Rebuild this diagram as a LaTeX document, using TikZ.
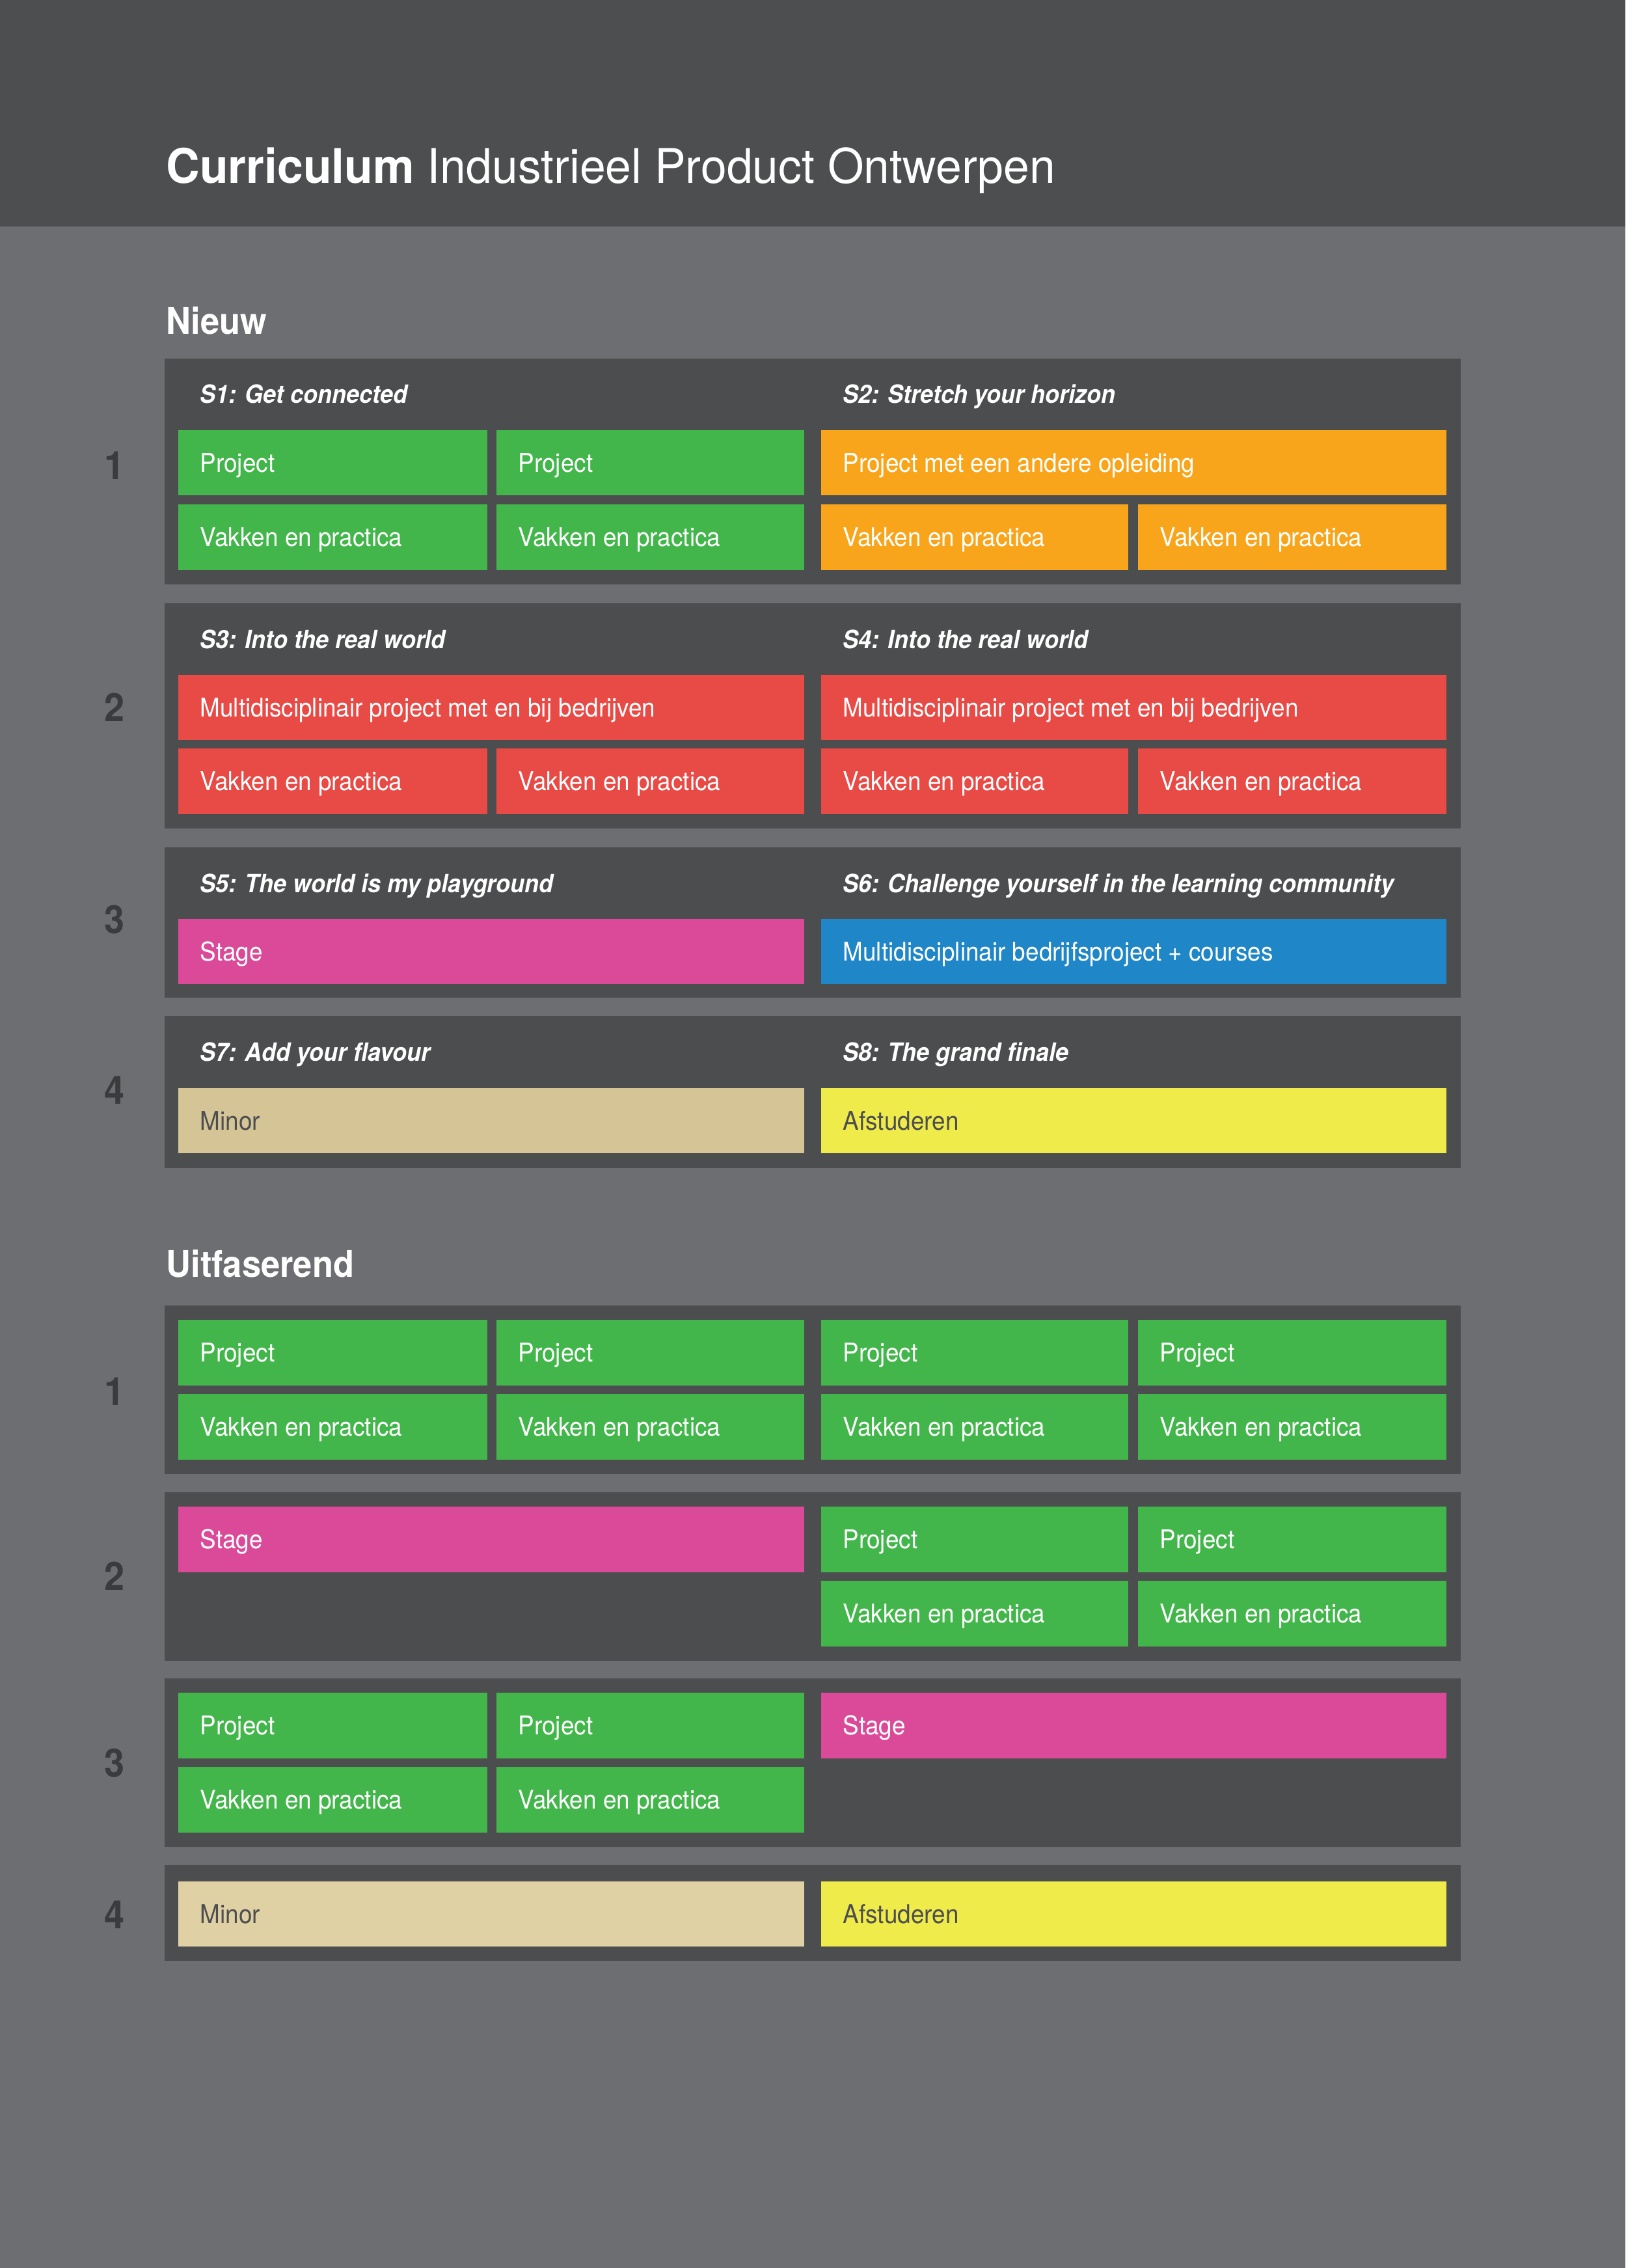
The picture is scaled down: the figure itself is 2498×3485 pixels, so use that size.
\documentclass[tikz,border=0pt]{standalone}
\usepackage{fontspec}
\setmainfont{TeX Gyre Heros}[FakeStretch=0.93]
\newfontfamily\titlefont{TeX Gyre Heros}[FakeStretch=0.975]
\definecolor{pagebg}{HTML}{6D6E71}
\definecolor{band}{HTML}{4D4E50}
\definecolor{panelc}{HTML}{4C4D4F}
\definecolor{cgreen}{HTML}{42B64A}
\definecolor{corange}{HTML}{F9A51C}
\definecolor{cred}{HTML}{E84A45}
\definecolor{cmag}{HTML}{DB4A98}
\definecolor{cblue}{HTML}{1F86C8}
\definecolor{ctanA}{HTML}{D5C496}
\definecolor{ctanB}{HTML}{E0D1A4}
\definecolor{cyellow}{HTML}{EFEB4B}
\definecolor{darktext}{HTML}{4D4E50}
\definecolor{numc}{HTML}{3A3B3D}
\def\pxu{0.3pt}
\newcommand\mkcell[8]{%
  \node[cellbox, fill=#6, minimum width=#4*\pxu, minimum height=#5*\pxu] (#1) at (#2,#3) {};
  \node[celltext, text=#7] (#1-t) at ([xshift=33*\pxu]#1.west) {#8};
}
\newcommand\mkpanel[3]{%
  \node[panelbox, minimum height=#3*\pxu] (#1) at (253,#2) {};
}
\begin{document}
\begin{tikzpicture}[x=0.3pt, y=-0.3pt,
  cellbox/.style={anchor=north west, inner sep=0pt, outer sep=0pt, draw=none},
  celltext/.style={anchor=west, inner sep=0pt, text height=8.5pt, text depth=0pt,
     font=\fontsize{11.9}{14}\selectfont},
  panelbox/.style={anchor=north west, inner sep=0pt, outer sep=0pt, fill=panelc,
     minimum width=1992*\pxu},
  semhead/.style={anchor=base west, inner sep=0pt, text=white,
     font=\fontsize{11.6}{13}\selectfont\bfseries\itshape},
  sechead/.style={anchor=base west, inner sep=0pt, text=white,
     font=\fontsize{16.9}{19}\selectfont\bfseries},
  yearnum/.style={anchor=center, inner sep=0pt, text=numc, text height=12.9pt, text depth=0pt,
     font=\fontsize{18}{20}\selectfont\bfseries}
]
\useasboundingbox (0,0) rectangle (2498,3485);
\fill[pagebg] (0,0) rectangle (2498,3485);
\fill[band] (0,0) rectangle (2498,348);

\node[anchor=base west, inner sep=0pt, text=white, font=\titlefont\fontsize{22}{26}\selectfont] (title) at (255,282)
  {\textbf{Curriculum} Industrieel Product Ontwerpen};

% ---------------- Nieuw ----------------
\node[sechead] (nieuw) at (255,514) {Nieuw};

\mkpanel{N1}{551}{347}
\mkpanel{N2}{927}{346}
\mkpanel{N3}{1302}{231}
\mkpanel{N4}{1561}{234}

\node[yearnum] (nn1) at (176,715) {1};
\node[yearnum] (nn2) at (176,1087) {2};
\node[yearnum] (nn3) at (176,1413) {3};
\node[yearnum] (nn4) at (176,1675) {4};

\node[semhead] (s1) at (307,620) {S1: Get connected};
\node[semhead] (s2) at (1295,620) {S2: Stretch your horizon};
\node[semhead] (s3) at (307,996) {S3: Into the real world};
\node[semhead] (s4) at (1295,996) {S4: Into the real world};
\node[semhead] (s5) at (307,1371) {S5: The world is my playground};
\node[semhead] (s6) at (1295,1371) {S6: Challenge yourself in the learning community};
\node[semhead] (s7) at (307,1630) {S7: Add your flavour};
\node[semhead] (s8) at (1295,1630) {S8: The grand finale};

% N1
\mkcell{n1a}{274}{661}{475}{100}{cgreen}{white}{Project}
\mkcell{n1b}{763}{661}{473}{100}{cgreen}{white}{Project}
\mkcell{n1c}{1262}{661}{961}{100}{corange}{white}{Project met een andere opleiding}
\mkcell{n1d}{274}{775}{475}{101}{cgreen}{white}{Vakken en practica}
\mkcell{n1e}{763}{775}{473}{101}{cgreen}{white}{Vakken en practica}
\mkcell{n1f}{1262}{775}{472}{101}{corange}{white}{Vakken en practica}
\mkcell{n1g}{1749}{775}{474}{101}{corange}{white}{Vakken en practica}
% N2
\mkcell{n2a}{274}{1037}{962}{100}{cred}{white}{Multidisciplinair project met en bij bedrijven}
\mkcell{n2b}{1262}{1037}{961}{100}{cred}{white}{Multidisciplinair project met en bij bedrijven}
\mkcell{n2c}{274}{1150}{475}{101}{cred}{white}{Vakken en practica}
\mkcell{n2d}{763}{1150}{473}{101}{cred}{white}{Vakken en practica}
\mkcell{n2e}{1262}{1150}{472}{101}{cred}{white}{Vakken en practica}
\mkcell{n2f}{1749}{1150}{474}{101}{cred}{white}{Vakken en practica}
% N3
\mkcell{n3a}{274}{1412}{962}{100}{cmag}{white}{Stage}
\mkcell{n3b}{1262}{1412}{961}{100}{cblue}{white}{Multidisciplinair bedrijfsproject + courses}
% N4
\mkcell{n4a}{274}{1672}{962}{100}{ctanA}{darktext}{Minor}
\mkcell{n4b}{1262}{1672}{961}{100}{cyellow}{darktext}{Afstuderen}

% ---------------- Uitfaserend ----------------
\node[sechead] (uitf) at (255,1962) {Uitfaserend};

\mkpanel{U1}{2006}{259}
\mkpanel{U2}{2293}{259}
\mkpanel{U3}{2579}{259}
\mkpanel{U4}{2866}{147}

\node[yearnum] (un1) at (176,2138) {1};
\node[yearnum] (un2) at (176,2422) {2};
\node[yearnum] (un3) at (176,2709) {3};
\node[yearnum] (un4) at (176,2942) {4};

% U1
\mkcell{u1a}{274}{2028}{475}{101}{cgreen}{white}{Project}
\mkcell{u1b}{763}{2028}{473}{101}{cgreen}{white}{Project}
\mkcell{u1c}{1262}{2028}{472}{101}{cgreen}{white}{Project}
\mkcell{u1d}{1749}{2028}{474}{101}{cgreen}{white}{Project}
\mkcell{u1e}{274}{2142}{475}{101}{cgreen}{white}{Vakken en practica}
\mkcell{u1f}{763}{2142}{473}{101}{cgreen}{white}{Vakken en practica}
\mkcell{u1g}{1262}{2142}{472}{101}{cgreen}{white}{Vakken en practica}
\mkcell{u1h}{1749}{2142}{474}{101}{cgreen}{white}{Vakken en practica}
% U2
\mkcell{u2a}{274}{2315}{962}{101}{cmag}{white}{Stage}
\mkcell{u2b}{1262}{2315}{472}{101}{cgreen}{white}{Project}
\mkcell{u2c}{1749}{2315}{474}{101}{cgreen}{white}{Project}
\mkcell{u2d}{1262}{2429}{472}{101}{cgreen}{white}{Vakken en practica}
\mkcell{u2e}{1749}{2429}{474}{101}{cgreen}{white}{Vakken en practica}
% U3
\mkcell{u3a}{274}{2601}{475}{101}{cgreen}{white}{Project}
\mkcell{u3b}{763}{2601}{473}{101}{cgreen}{white}{Project}
\mkcell{u3c}{1262}{2601}{961}{101}{cmag}{white}{Stage}
\mkcell{u3d}{274}{2715}{475}{101}{cgreen}{white}{Vakken en practica}
\mkcell{u3e}{763}{2715}{473}{101}{cgreen}{white}{Vakken en practica}
% U4
\mkcell{u4a}{274}{2891}{962}{100}{ctanB}{darktext}{Minor}
\mkcell{u4b}{1262}{2891}{961}{100}{cyellow}{darktext}{Afstuderen}
\end{tikzpicture}
\end{document}
